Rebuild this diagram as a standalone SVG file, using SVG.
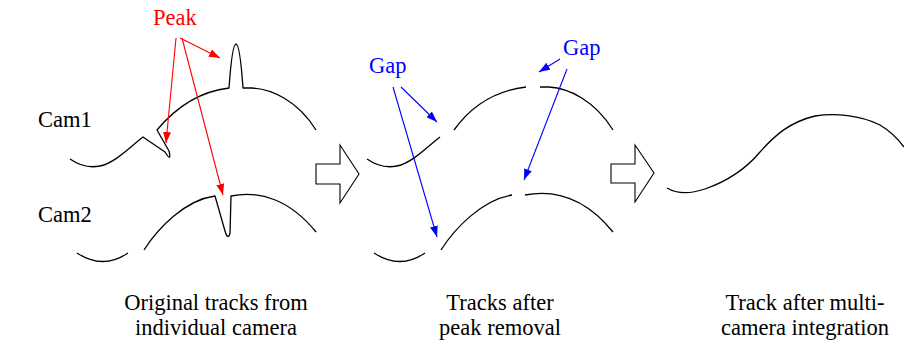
<svg xmlns="http://www.w3.org/2000/svg" width="904" height="343" viewBox="0 0 904 343">
<style>
.trk{fill:none;stroke:#000;stroke-width:1.3;stroke-linejoin:round}
.blk{fill:#fff;stroke:#000;stroke-width:1.1}
.t{font-family:"Liberation Serif","Times New Roman",serif;font-size:22.5px;fill:#000}
.red{fill:#f00}
.blue{fill:#00f}
.ra{stroke:#f00;stroke-width:1.1;fill:none;marker-end:url(#mr)}
.ba{stroke:#00f;stroke-width:1.1;fill:none;marker-end:url(#mb)}
.mid{text-anchor:middle}
</style>
<defs>
<marker id="mr" markerUnits="userSpaceOnUse" markerWidth="11" markerHeight="8" refX="11" refY="4" orient="auto"><path d="M0,0 L11,4 L0,8 z" fill="#f00"/></marker>
<marker id="mb" markerUnits="userSpaceOnUse" markerWidth="11" markerHeight="8" refX="11" refY="4" orient="auto"><path d="M0,0 L11,4 L0,8 z" fill="#00f"/></marker>
</defs>
<g id="labels">
<text class="t" x="38" y="127">Cam1</text>
<text class="t" x="38" y="222">Cam2</text>
</g>
<g id="original-tracks">
<path class="trk" d="M70,159 C80,166 90,168 100,166 C115,163 130,147 143,137 L165,152 Q172,163 169,151 L157,130 C172,112 195,92 229,88 C231,60 233,44 236,44 C239,44 241,60 243,88 L252,88 C272,89 298,101 316,130"/>
<path class="trk" d="M77,253 Q103,270 128,253"/>
<path class="trk" d="M144,250 C158,228 185,200 215,196 L225,231 Q228,241 230,233 L231,196 C260,190 290,200 316,232"/>
</g>
<g id="arrow1"><polygon class="blk" points="316,164 340,164 340,145 359,174 340,203 340,184 316,184"/></g>
<g id="removed-tracks">
<path class="trk" d="M367,159 C377,166 387,168 397,166 C412,163 427,147 440,137"/>
<path class="trk" d="M454,130 C469,109 492,91 526,87"/>
<path class="trk" d="M540,87 L549,87 C569,88 595,101 613,130"/>
<path class="trk" d="M374,253 Q400,270 425,253"/>
<path class="trk" d="M441,250 C455,228 482,200 512,195"/>
<path class="trk" d="M525,195 C557,189 587,200 613,232"/>
</g>
<g id="arrow2"><polygon class="blk" points="611,164 635,164 635,145 654,173 635,202 635,183 611,183"/></g>
<g id="integrated-track">
<path class="trk" d="M667,188 C677,194 690,194 705,189 C725,182 745,170 760,152 C775,135 790,122 815,116 C835,113 860,115 880,125 C890,131 898,139 904,147"/>
</g>
<g id="connectors">
<line class="ra" x1="176" y1="38" x2="166" y2="143"/>
<line class="ra" x1="180" y1="38" x2="220" y2="58"/>
<line class="ra" x1="182" y1="38" x2="223" y2="195"/>
<line class="ba" x1="401" y1="87" x2="437" y2="122"/>
<line class="ba" x1="393" y1="87" x2="437" y2="237"/>
<line class="ba" x1="560" y1="59" x2="539" y2="72"/>
<line class="ba" x1="567" y1="69" x2="524" y2="180"/>
</g>
<g id="peak-label"><text class="t red" x="153" y="25">Peak</text></g>
<g id="gap-label-1"><text class="t blue" x="369" y="73">Gap</text></g>
<g id="gap-label-2"><text class="t blue" x="563" y="55">Gap</text></g>
<g id="caption-1"><text class="t mid" x="216" y="310">Original tracks from</text><text class="t mid" x="216" y="335">individual camera</text></g>
<g id="caption-2"><text class="t mid" x="500" y="310">Tracks after</text><text class="t mid" x="500" y="335">peak removal</text></g>
<g id="caption-3"><text class="t mid" x="805" y="310">Track after multi-</text><text class="t mid" x="805" y="335">camera integration</text></g>
</svg>
